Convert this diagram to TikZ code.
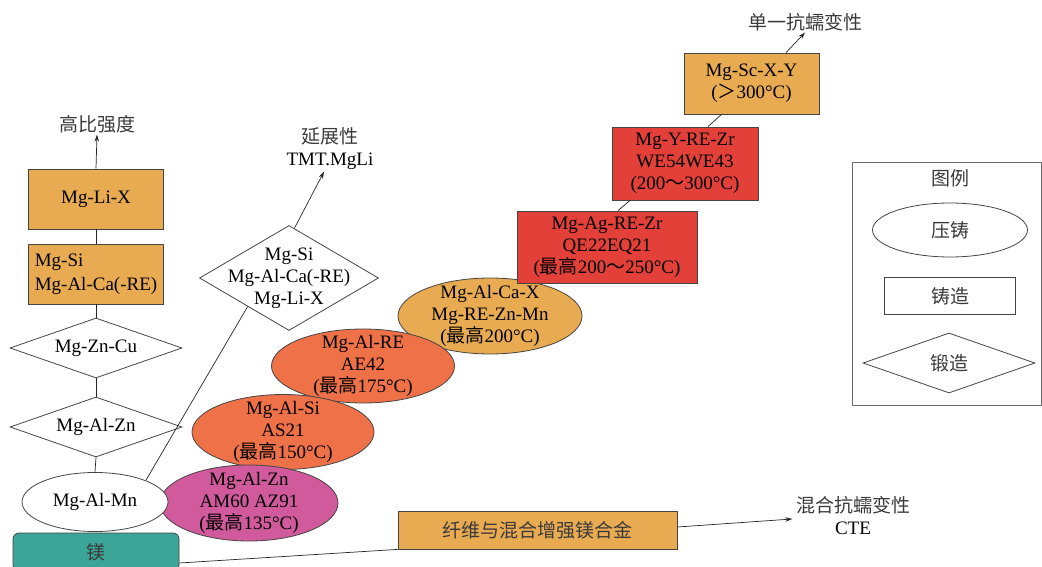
\documentclass[tikz,border=0pt]{standalone}
\usepackage{fontspec}
\setmainfont{Liberation Serif}
\newfontfamily\cjk{Noto Sans CJK SC}
\usetikzlibrary{shapes.geometric,arrows.meta,calc}
\definecolor{castfill}{HTML}{E9AB52}
\definecolor{redfill}{HTML}{E3403A}
\definecolor{coralfill}{HTML}{EE7148}
\definecolor{pinkfill}{HTML}{D05A9B}
\definecolor{tealfill}{HTML}{3BA597}
\definecolor{edge}{HTML}{454545}
\definecolor{notetext}{HTML}{3A3A3A}
\newcommand\zh[1]{{\cjk\color{notetext}#1}}
\newcommand\zk[1]{{\cjk #1}}
\tikzset{
  base/.style={draw=edge, line width=0.8pt},
  rectbox/.style={base, rectangle, inner sep=0pt, align=center},
  ellbox/.style={base, ellipse, inner sep=0pt},
  diabox/.style={base, diamond, inner sep=0pt},
  conn/.style={draw=black!85, line width=0.7pt},
  arr/.style={conn, -{Stealth[length=7pt,width=4.5pt]}},
  note/.style={inner sep=1.5pt, align=center},
  mid/.style={align=center},
}
\begin{document}
\begin{tikzpicture}[x=1pt, y=-1pt, font=\fontsize{19}{22}\selectfont]
\useasboundingbox (0,0) rectangle (1042,567);
\clip (0,0) rectangle (1042,567);

% ---- left column: wrought / cast path towards specific strength
\node[note] (gao) at (97,124) {\zh{高比强度}};
\node[rectbox, fill=castfill, minimum width=135pt, minimum height=60pt] (li) at (96,199) {Mg-Li-X};
\node[rectbox, fill=castfill, minimum width=135pt, minimum height=60pt, align=left] (si) at (96,274) {Mg-Si\\[2pt]Mg-Al-Ca(-RE)};
\node[diabox, minimum width=172pt, minimum height=60pt, label={[mid]center:Mg-Zn-Cu}] (zc) at (96,348) {};
\node[diabox, minimum width=172pt, minimum height=60pt, label={[mid]center:Mg-Al-Zn}] (az) at (96,427) {};

% ---- wrought branch towards ductility
\node[diabox, minimum width=179pt, minimum height=105pt, label={[mid]center:{Mg-Si\\Mg-Al-Ca(-RE)\\Mg-Li-X}}] (ds) at (289,278) {};
\node[note] (tmt) at (330,149) {\zh{延展性}\\TMT.MgLi};

% ---- die-cast alloys, increasing creep temperature
\node[ellbox, fill=castfill, minimum width=184pt, minimum height=76pt, label={[mid]center:{Mg-Al-Ca-X\\Mg-RE-Zn-Mn\\(\zk{最高}200°C)}}] (cax) at (490,316) {};
\node[ellbox, fill=coralfill, minimum width=183pt, minimum height=74pt, label={[mid]center:{Mg-Al-RE\\AE42\\(\zk{最高}175°C)}}] (ae) at (363,366) {};
\node[ellbox, fill=coralfill, minimum width=182pt, minimum height=75pt, label={[mid]center:{Mg-Al-Si\\AS21\\(\zk{最高}150°C)}}] (as) at (283,432) {};
\node[ellbox, fill=pinkfill, minimum width=178pt, minimum height=76pt, label={[mid]center:{Mg-Al-Zn\\AM60 AZ91\\(\zk{最高}135°C)}}] (am) at (249,503) {};
\node[ellbox, fill=white, minimum width=146pt, minimum height=59pt, label={[mid]center:Mg-Al-Mn}] (mn) at (95,502) {};

% ---- sand-cast alloys
\node[rectbox, fill=redfill, minimum width=180pt, minimum height=72pt] (ag) at (607,247) {Mg-Ag-RE-Zr\\QE22EQ21\\(\zk{最高}200\zk{～}250°C)};
\node[rectbox, fill=redfill, minimum width=146pt, minimum height=73pt] (wy) at (685,163.5) {Mg-Y-RE-Zr\\WE54WE43\\(200\zk{～}300°C)};
\node[rectbox, fill=castfill, minimum width=135pt, minimum height=61pt] (sc) at (751.5,83.5) {Mg-Sc-X-Y\\(\zk{＞}300°C)};
\node[note] (dan) at (805,22) {\zh{单一抗蠕变性}};

% ---- base metal and composites
\node[rectbox, fill=tealfill, rounded corners=6pt, minimum width=166pt, minimum height=38pt] (mg) at (96,552) {\zh{镁}};
\node[rectbox, fill=castfill, minimum width=279pt, minimum height=38pt] (xw) at (537.5,530) {\zh{纤维与混合增强镁合金}};
\node[note] (hh) at (853,516) {\zh{混合抗蠕变性}\\CTE};

% ---- legend
\node[base, draw=edge!80, minimum width=189pt, minimum height=243pt] (lg) at (946.5,283.5) {};
\node[note] (lgt) at (950,178) {\zh{图例}};
\node[ellbox, minimum width=155pt, minimum height=54pt] (lge) at (950,230) {\zh{压铸}};
\node[rectbox, minimum width=131pt, minimum height=37pt] (lgr) at (950,296) {\zh{铸造}};
\node[diabox, minimum width=172pt, minimum height=60pt, label={[mid]center:\zh{锻造}}] (lgd) at (949,363) {};

% ---- connectors
\draw[arr] (li.north) -- (gao.south);
\draw[conn] (li.south) -- (si.north);
\draw[conn] (si.south) -- (zc.north);
\draw[conn] (zc.south) -- (az.north);
\draw[conn] (az.south) -- (mn.north);
\draw[conn] (mn.23) -- ($(ds.west)!0.54!(ds.south)$);
\draw[arr] ($(ds.north)!0.06!(ds.east)$) -- ([xshift=-6pt]tmt.south);
\draw[conn] ([xshift=11pt]ag.north) -- ([xshift=-55pt]wy.south);
\draw[conn] ([xshift=23pt]wy.north) -- ([xshift=-30pt]sc.north |- sc.south);
\draw[arr] ([xshift=34.5pt]sc.north) -- (dan.south);
\draw[conn] ([yshift=-11pt]mg.east) -- (xw.south west);
\draw[arr] ([yshift=3pt]xw.east) -- ([xshift=-2pt,yshift=-3pt]hh.west);
\end{tikzpicture}
\end{document}
